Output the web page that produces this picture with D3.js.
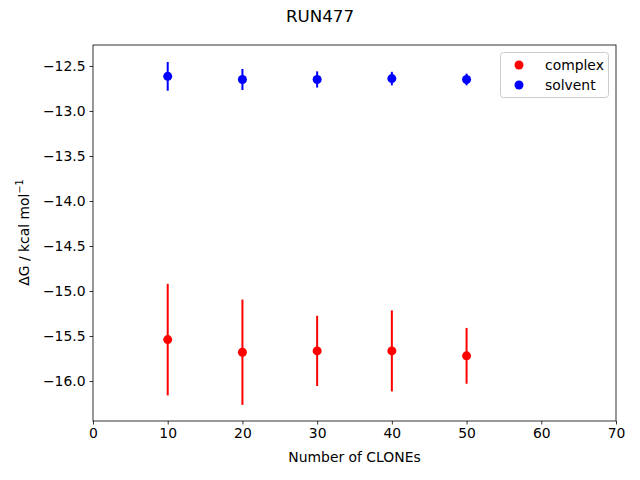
<!DOCTYPE html>
<html>
<head>
<meta charset="utf-8">
<script src="https://cdn.jsdelivr.net/npm/d3@7"></script>
<style>
  body { margin: 0; background: #fff; }
  svg { font-family: "DejaVu Sans", sans-serif; }
</style>
</head>
<body>
<div class="canvas"></div>
<script>
// number of clones
var clones = [10, 20, 30, 40, 50]

// complex leg
var complexDG = [-15.54, -15.68, -15.665, -15.665, -15.72]
var complexErr = [0.62, 0.585, 0.39, 0.45, 0.31]

// solvent leg
var solventDG = [-12.615, -12.65, -12.65, -12.64, -12.65]
var solventErr = [0.16, 0.117, 0.09, 0.075, 0.065]

var xTicks = [0, 10, 20, 30, 40, 50, 60, 70]
var yTicks = [-16.0, -15.5, -15.0, -14.5, -14.0, -13.5, -13.0, -12.5]

var width = 640, height = 480
var margin = {top: 45, right: 24, bottom: 59, left: 93}

var svg = d3.select(".canvas").append("svg")
    .attr("width", width)
    .attr("height", height)

var x = d3.scaleLinear().domain([0, 70]).range([margin.left, width - margin.right])
var y = d3.scaleLinear().domain([-16.444, -12.267]).range([height - margin.bottom, margin.top])

var xAxis = svg.append("g")
    .attr("transform", "translate(0," + (height - margin.bottom) + ")")
    .call(d3.axisBottom(x).tickValues(xTicks).tickSize(3.5).tickPadding(4).tickFormat(d3.format("d")))
var yAxis = svg.append("g")
    .attr("transform", "translate(" + margin.left + ",0)")
    .call(d3.axisLeft(y).tickValues(yTicks).tickSize(3.5).tickPadding(4)
      .tickFormat(d => d3.format(".1f")(d).replace("-", "\u2212")))

svg.selectAll(".domain").remove()
svg.selectAll(".tick text").attr("font-size", 13.9).attr("fill", "#000").attr("font-family", "DejaVu Sans")
svg.selectAll(".tick line").attr("stroke", "#000").attr("stroke-width", 0.8)

// frame
svg.append("rect")
    .attr("x", margin.left).attr("y", margin.top)
    .attr("width", width - margin.left - margin.right)
    .attr("height", height - margin.top - margin.bottom)
    .attr("fill", "none").attr("stroke", "#000").attr("stroke-width", 0.8)

function drawSeries(vals, errs, color) {
  var g = svg.append("g")
  g.selectAll("line")
    .data(clones)
    .enter()
    .append("line")
    .attr("x1", d => x(d)).attr("x2", d => x(d))
    .attr("y1", (d, i) => y(vals[i] - errs[i]))
    .attr("y2", (d, i) => y(vals[i] + errs[i]))
    .attr("stroke", color).attr("stroke-width", 2)
  g.selectAll("circle")
    .data(clones)
    .enter()
    .append("circle")
    .attr("cx", d => x(d))
    .attr("cy", (d, i) => y(vals[i]))
    .attr("r", 4.5)
    .attr("fill", color)
}
drawSeries(complexDG, complexErr, "red")
drawSeries(solventDG, solventErr, "blue")

// legend
var legend = svg.append("g")
legend.append("rect")
    .attr("x", 500.5).attr("y", 52.5).attr("width", 108).attr("height", 45)
    .attr("rx", 3).attr("fill", "#fff").attr("fill-opacity", 0.8)
    .attr("stroke", "#ccc").attr("stroke-width", 1)
var legendItems = [["complex", "red"], ["solvent", "blue"]]
legend.selectAll("circle")
    .data(legendItems)
    .enter()
    .append("circle")
    .attr("cx", 519).attr("cy", (d, i) => 65 + i * 20).attr("r", 4.5)
    .style("fill", d => d[1])
legend.selectAll("text")
    .data(legendItems)
    .enter()
    .append("text")
    .attr("x", 545).attr("y", (d, i) => 65 + i * 20)
    .attr("dy", "0.35em")
    .attr("font-size", 13.9)
    .text(d => d[0])

// title + axis labels
svg.append("text")
    .attr("x", width / 2).attr("y", 22)
    .attr("text-anchor", "middle").attr("font-size", 16.7)
    .text("RUN477")

svg.append("text")
    .attr("x", x(35)).attr("y", 462)
    .attr("text-anchor", "middle").attr("font-size", 13.9)
    .text("Number of CLONEs")

var yl = svg.append("text")
    .attr("transform", "translate(29," + y(-14.35) + ") rotate(-90)")
    .attr("text-anchor", "middle").attr("font-size", 13.9)
yl.append("tspan").text("\u0394G / kcal mol")
yl.append("tspan").attr("dy", -6).attr("font-size", 9.7).text("\u22121")
</script>
</body>
</html>
